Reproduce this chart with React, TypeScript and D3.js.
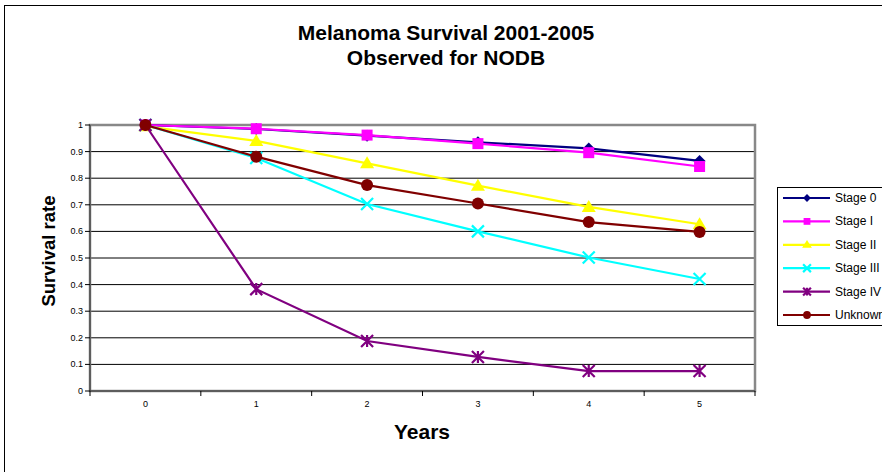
import React from "react";
import * as d3 from "d3";

const years = ["0", "1", "2", "3", "4", "5"];
const yTicks = [0, 0.1, 0.2, 0.3, 0.4, 0.5, 0.6, 0.7, 0.8, 0.9, 1];

const stage0 = [1, 0.985, 0.96, 0.935, 0.912, 0.865];
const stage1 = [1, 0.986, 0.962, 0.93, 0.896, 0.844];
const stage2 = [0.995, 0.94, 0.856, 0.772, 0.692, 0.627];
const stage3 = [1, 0.876, 0.703, 0.6, 0.502, 0.421];
const stage4 = [1, 0.383, 0.188, 0.128, 0.075, 0.075];
const unknown = [1, 0.881, 0.774, 0.705, 0.635, 0.598];

const seriesNames = ["Stage 0", "Stage I", "Stage II", "Stage III", "Stage IV", "Unknown"];
const seriesValues = [stage0, stage1, stage2, stage3, stage4, unknown];
const seriesColors = ["#000080", "#FF00FF", "#FFFF00", "#00FFFF", "#800080", "#800000"];
const seriesMarkers = ["diamond", "square", "triangle", "x", "star", "circle"];

const W = 882;
const H = 472;
const plot = { left: 90, right: 755, top: 125, bottom: 391 };
const font = "'Liberation Sans', Arial, sans-serif";

function Marker({ kind, x, y, color, s = 1 }: { kind: string; x: number; y: number; color: string; s?: number }) {
  const r = 6 * s;
  switch (kind) {
    case "diamond":
      return <path d={`M${x},${y - r}L${x + r},${y}L${x},${y + r}L${x - r},${y}Z`} fill={color} />;
    case "square":
      return <rect x={x - r + 0.5} y={y - r + 0.5} width={2 * r - 1} height={2 * r - 1} fill={color} />;
    case "triangle":
      return <path d={`M${x},${y - r - 1}L${x + r + 1},${y + r - 1}L${x - r - 1},${y + r - 1}Z`} fill={color} />;
    case "x":
      return (
        <path
          d={`M${x - r},${y - r}L${x + r},${y + r}M${x - r},${y + r}L${x + r},${y - r}`}
          stroke={color}
          strokeWidth={2.2}
        />
      );
    case "star":
      return (
        <path
          d={`M${x - r},${y - r}L${x + r},${y + r}M${x - r},${y + r}L${x + r},${y - r}M${x},${y - r}L${x},${y + r}`}
          stroke={color}
          strokeWidth={2.2}
        />
      );
    default:
      return <circle cx={x} cy={y} r={r} fill={color} />;
  }
}

export default function App() {
  const x = d3.scaleBand().domain(years).range([plot.left, plot.right]);
  const y = d3.scaleLinear().domain([0, 1]).range([plot.bottom, plot.top]);
  const cx = (d: string) => (x(d) as number) + x.bandwidth() / 2;

  const line = d3
    .line<number>()
    .x((_, i) => cx(years[i]))
    .y((d) => y(d));

  const boundaries = years.map((d) => x(d) as number).concat([plot.right]);

  const legend = { left: 777, top: 187, width: 120, height: 138, row: 23.4 };

  return (
    <svg width={W} height={H} style={{ position: "absolute", left: 0, top: 0, fontFamily: font }}>
      <rect x={0} y={0} width={W} height={H} fill="#fff" />
      <rect x={4.5} y={5.5} width={W + 20} height={H + 20} fill="#fff" stroke="#000" strokeWidth={1} />

      <text x={446} y={40} textAnchor="middle" fontSize={21} fontWeight="bold">
        Melanoma Survival 2001-2005
      </text>
      <text x={446} y={65} textAnchor="middle" fontSize={21} fontWeight="bold">
        Observed for NODB
      </text>

      {/* gridlines */}
      {yTicks.map((t) => (
        <line key={t} x1={plot.left} x2={plot.right} y1={y(t)} y2={y(t)} stroke="#000" strokeWidth={1} />
      ))}
      <rect
        x={plot.left}
        y={plot.top}
        width={plot.right - plot.left}
        height={plot.bottom - plot.top}
        fill="none"
        stroke="#888"
        strokeWidth={2.5}
      />
      <line x1={plot.left} x2={plot.left} y1={plot.top} y2={plot.bottom} stroke="#333" strokeWidth={1} />
      <line x1={plot.left} x2={plot.right} y1={plot.bottom} y2={plot.bottom} stroke="#333" strokeWidth={1} />

      {/* y axis */}
      {yTicks.map((t) => (
        <g key={t}>
          <line x1={plot.left - 5} x2={plot.left} y1={y(t)} y2={y(t)} stroke="#000" />
          <text x={plot.left - 7} y={y(t) + 3} textAnchor="end" fontSize={9}>
            {d3.format("")(t)}
          </text>
        </g>
      ))}

      {/* x axis */}
      {boundaries.map((b, i) => (
        <line key={i} x1={b} x2={b} y1={plot.bottom} y2={plot.bottom + 5} stroke="#000" />
      ))}
      {years.map((d) => (
        <text key={d} x={cx(d)} y={plot.bottom + 16} textAnchor="middle" fontSize={9}>
          {d}
        </text>
      ))}

      <text x={422} y={439} textAnchor="middle" fontSize={21} fontWeight="bold">
        Years
      </text>
      <text transform={`translate(55,251) rotate(-90)`} textAnchor="middle" fontSize={18.5} fontWeight="bold">
        Survival rate
      </text>

      {/* series */}
      {seriesValues.map((vals, si) => (
        <g key={seriesNames[si]}>
          <path d={line(vals) as string} fill="none" stroke={seriesColors[si]} strokeWidth={2.2} />
          {vals.map((v, i) => (
            <Marker key={i} kind={seriesMarkers[si]} x={cx(years[i])} y={y(v)} color={seriesColors[si]} />
          ))}
        </g>
      ))}

      {/* legend */}
      <rect
        x={legend.left + 0.5}
        y={legend.top + 0.5}
        width={legend.width}
        height={legend.height}
        fill="#fff"
        stroke="#000"
      />
      {seriesNames.map((name, i) => {
        const ly = legend.top + 11 + i * legend.row;
        return (
          <g key={name}>
            <line x1={783} x2={830} y1={ly} y2={ly} stroke={seriesColors[i]} strokeWidth={2.2} />
            <Marker kind={seriesMarkers[i]} x={807} y={ly} color={seriesColors[i]} s={0.65} />
            <text x={835} y={ly + 4} fontSize={12}>
              {name}
            </text>
          </g>
        );
      })}
    </svg>
  );
}
